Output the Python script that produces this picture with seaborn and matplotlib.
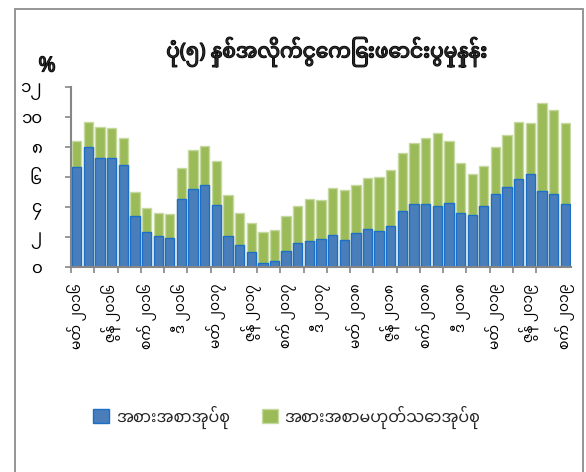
import matplotlib
matplotlib.use("Agg")
import matplotlib.pyplot as plt
from matplotlib.patches import Patch, Rectangle
import matplotlib.patheffects as pe
import seaborn as sns
import pandas as pd

# ---- data ----
months = [
    "2016-03", "2016-04", "2016-05", "2016-06", "2016-07", "2016-08", "2016-09", "2016-10",
    "2016-11", "2016-12", "2017-01", "2017-02", "2017-03", "2017-04", "2017-05", "2017-06",
    "2017-07", "2017-08", "2017-09", "2017-10", "2017-11", "2017-12", "2018-01", "2018-02",
    "2018-03", "2018-04", "2018-05", "2018-06", "2018-07", "2018-08", "2018-09", "2018-10",
    "2018-11", "2018-12", "2019-01", "2019-02", "2019-03", "2019-04", "2019-05", "2019-06",
    "2019-07", "2019-08", "2019-09",
]
food = [6.67, 8.00, 7.30, 7.26, 6.83, 3.38, 2.36, 2.08, 1.93, 4.52, 5.23, 5.49, 4.15, 2.08,
        1.48, 0.98, 0.29, 0.38, 1.09, 1.57, 1.71, 1.84, 2.15, 1.82, 2.25, 2.56, 2.42, 2.72,
        3.74, 4.20, 4.20, 4.06, 4.26, 3.62, 3.48, 4.08, 4.89, 5.35, 5.88, 6.22, 5.08, 4.87, 4.20]
nonfood = [1.76, 1.68, 2.03, 2.02, 1.80, 1.59, 1.56, 1.49, 1.59, 2.09, 2.57, 2.56, 2.90, 2.72,
           2.14, 1.98, 2.06, 2.07, 2.34, 2.48, 2.81, 2.64, 3.13, 3.33, 3.22, 3.35, 3.55, 3.78,
           3.87, 4.06, 4.43, 4.86, 4.14, 3.29, 2.70, 2.68, 3.09, 3.43, 3.77, 3.38, 5.86, 5.58, 5.37]
tick_labels = [
    "မတ် ၂၀၁၆", "ဇွန် ၂၀၁၆", "စက် ၂၀၁၆", "ဒီ ၂၀၁၆",
    "မတ် ၂၀၁၇", "ဇွန် ၂၀၁၇", "စက် ၂၀၁၇", "ဒီ ၂၀၁၇",
    "မတ် ၂၀၁၈", "ဇွန် ၂၀၁၈", "စက် ၂၀၁၈", "ဒီ ၂၀၁၈",
    "မတ် ၂၀၁၉", "ဇွန် ၂၀၁၉", "စက် ၂၀၁၉",
]
y_ticks = [0, 2, 4, 6, 8, 10, 12]
y_tick_labels = ["၀", "၂", "၄", "၆", "၈", "၁၀", "၁၂"]
series_names = ["အစားအစာအုပ်စု", "အစားအစာမဟုတ်သောအုပ်စု"]
title = "ပုံ(၅) နှစ်အလိုက်ငွေကြေးဖောင်းပွမှုနှုန်း"

df = pd.DataFrame({"month": months, "food": food, "nonfood": nonfood})
df["total"] = df["food"] + df["nonfood"]

# ---- style ----
sns.set_theme(style="white")
plt.rcParams["font.family"] = ["Noto Sans Myanmar", "Padauk", "Myanmar Text", "DejaVu Sans"]

BLUE = "#4a7ebb"
BLUE_EDGE = "#1c6fc6"
GREEN = "#9bbb59"
GREEN_EDGE = "#c6d9a0"
AXIS = "#868686"

W, H = 586, 472
fig = plt.figure(figsize=(W / 100, H / 100), dpi=100)
ax = fig.add_axes([71 / W, 1 - 267 / H, 500 / W, 180 / H])

sns.barplot(data=df, x="month", y="total", color=GREEN, saturation=1, width=0.8,
            edgecolor=GREEN_EDGE, linewidth=1.0, ax=ax, errorbar=None)
sns.barplot(data=df, x="month", y="food", color=BLUE, saturation=1, width=0.8,
            edgecolor=BLUE_EDGE, linewidth=1.0, ax=ax, errorbar=None)

ax.set_xlim(-0.5, len(months) - 0.5)
ax.set_ylim(0, 12)
ax.set_xlabel("")
ax.set_ylabel("")

for s in ["top", "right"]:
    ax.spines[s].set_visible(False)
for s in ["left", "bottom"]:
    ax.spines[s].set_color(AXIS)
    ax.spines[s].set_linewidth(1.5)

ax.set_yticks(y_ticks)
ax.set_yticklabels(y_tick_labels, fontsize=12)
ax.tick_params(axis="y", direction="out", length=4, width=1.2, color=AXIS, pad=17,
               left=True, labelcolor="black")

major_pos = list(range(0, len(months), 3))
ax.set_xticks(major_pos)
ax.set_xticklabels(tick_labels, rotation=90, fontsize=10, va="top", ha="center")
ax.tick_params(axis="x", which="major", length=0, pad=12, labelcolor="black")
ax.set_xticks([i - 0.5 for i in range(0, len(months) - 1, 2)], minor=True)
ax.tick_params(axis="x", which="minor", direction="out", length=4, width=1.2,
               color=AXIS, bottom=True)

bold = [pe.withStroke(linewidth=0.9, foreground="black")]
# title and % sign
fig.text(327 / W, 1 - 52 / H, title, ha="center", va="center", fontsize=14.5,
         fontweight="bold", path_effects=bold)
fig.text(47 / W, 1 - 66 / H, "%", ha="center", va="center", fontsize=15,
         fontweight="bold", path_effects=bold)

# legend
handles = [Patch(facecolor=BLUE, edgecolor=BLUE_EDGE, label=series_names[0]),
           Patch(facecolor=GREEN, edgecolor=GREEN_EDGE, label=series_names[1])]
fig.legend(handles=handles, loc="center left", bbox_to_anchor=(79 / W, 1 - 417 / H),
           ncol=2, frameon=False, fontsize=11.5, handlelength=1.0, handleheight=1.0,
           handletextpad=0.4, columnspacing=2.0)

# outer frame
fig.patches.append(Rectangle((15 / W, -0.05), (583 - 15) / W, 1.05 - 9 / H,
                             transform=fig.transFigure, fill=False,
                             edgecolor="#8c8c8c", linewidth=1.3))

fig.savefig("out.png", dpi=100)
